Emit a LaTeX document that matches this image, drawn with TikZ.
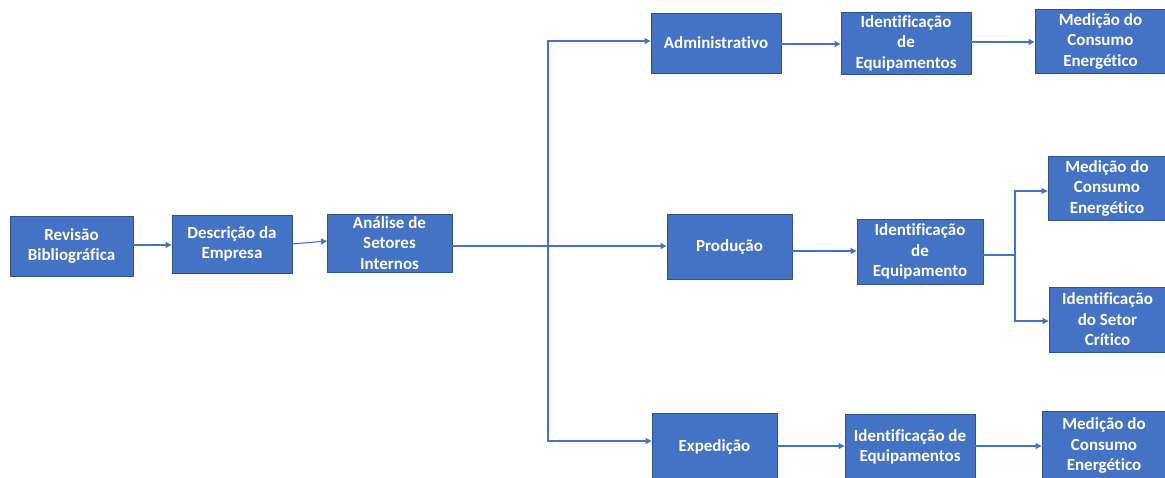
\documentclass[tikz,border=0pt]{standalone}
\usepackage{fontspec}
\setmainfont[Ligatures=NoCommon]{Carlito}
\usetikzlibrary{arrows.meta}
\definecolor{boxfill}{HTML}{4472C4}
\definecolor{boxline}{HTML}{2F528F}
\definecolor{linecol}{HTML}{4472C4}
\tikzset{
  bx/.style={draw=boxline, line width=0.9pt, fill=boxfill, text=white, font=\fontsize{17}{20.5}\selectfont\bfseries, align=center, inner sep=0pt},
  conn/.style={draw=linecol, line width=1.1pt, -{Triangle[length=6pt,width=6pt]}},
  seg/.style={draw=linecol, line width=1.1pt}
}
\newcommand{\bxat}[6]{% name, x1, y1, x2, y2, text
  \node[bx, minimum width={(#4-#2)*1pt}, minimum height={(#5-#3)*1pt}] (#1) at ({(#2+#4)/2}, {(#3+#5)/2}) {#6};
}
\begin{document}
\begin{tikzpicture}[x=1pt, y=-1pt]
\useasboundingbox (0,0) rectangle (1165,477);
\bxat{rev}{10}{216}{133}{276}{Revisão\\Bibliográfica}
\bxat{desc}{172}{215}{292}{273}{Descrição da\\Empresa}
\bxat{ana}{327}{214}{452}{272}{Análise de\\Setores\\Internos}
\bxat{adm}{651}{13}{781}{73}{Administrativo}
\bxat{ida}{841}{12}{971}{74}{Identificação\\de\\Equipamentos}
\bxat{mda}{1035}{9}{1166}{73}{Medição do\\Consumo\\Energético}
\bxat{pro}{667}{214}{792}{279}{Produção}
\bxat{idp}{857}{219}{983}{284}{Identificação\\de\\Equipamento}
\bxat{mdp}{1048}{156}{1166}{220}{Medição do\\Consumo\\Energético}
\bxat{ids}{1049}{287}{1166}{352}{Identificação\\do Setor\\Crítico}
\bxat{exp}{652}{413}{777}{480}{Expedição}
\bxat{ide}{845}{414}{975}{480}{Identificação de\\Equipamentos}
\bxat{mde}{1042}{411}{1166}{480}{Medição do\\Consumo\\Energético}

\coordinate (br) at (548,246);
\coordinate (sp) at (1015,255);

\draw[conn] (rev.east |- 0,245) -- (desc.west |- 0,245);
\draw[conn] (292,244) -- (327,241);
\draw[seg] (ana.east |- 0,246) -- (br);
\draw[conn] (br) -- (pro.west |- br);
\draw[conn] (br) |- (adm.west |- 0,41);
\draw[conn] (br) |- (exp.west |- 0,441);
\draw[conn] (adm.east |- 0,44) -- (ida.west |- 0,44);
\draw[conn] (ida.east |- 0,42) -- (mda.west |- 0,42);
\draw[conn] (pro.east |- 0,251) -- (idp.west |- 0,251);
\draw[seg] (idp.east |- sp) -- (sp);
\draw[conn] (sp) |- (mdp.west |- 0,191);
\draw[conn] (sp) |- (ids.west |- 0,321);
\draw[conn] (exp.east |- 0,446) -- (ide.west |- 0,446);
\draw[conn] (ide.east |- 0,446) -- (mde.west |- 0,446);
\end{tikzpicture}
\end{document}
